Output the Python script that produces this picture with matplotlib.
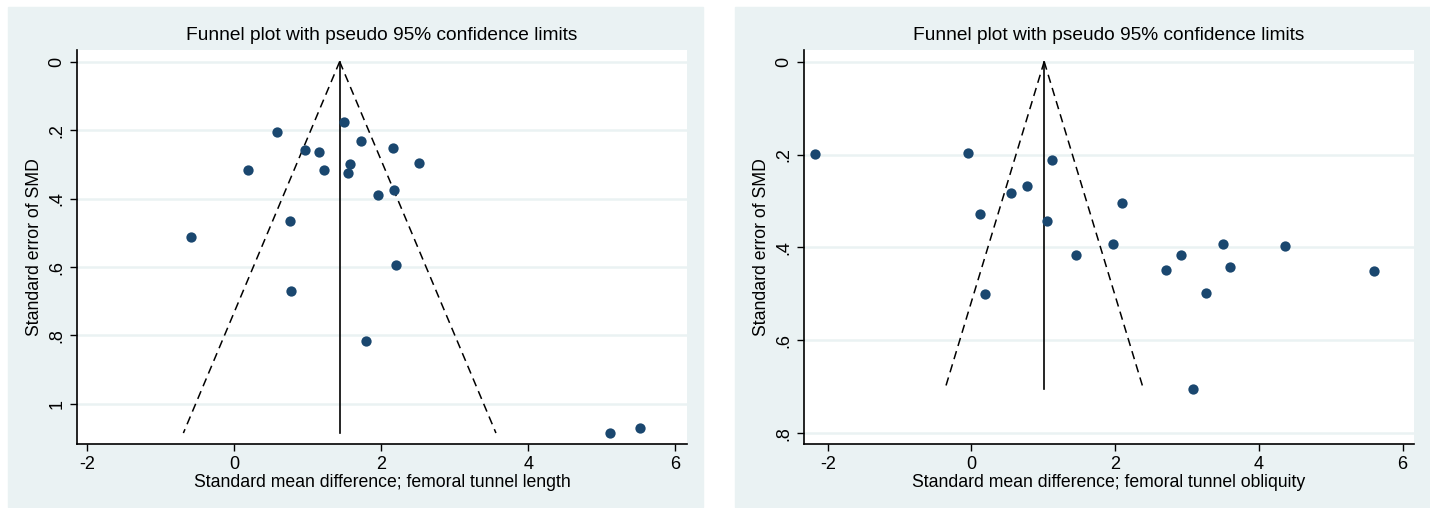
import matplotlib.pyplot as plt
from matplotlib.patches import Rectangle

plt.rcParams['font.family'] = ['Liberation Sans', 'DejaVu Sans']

# femoral tunnel length: SMD and its standard error
len_smd = [0.575, 0.18, 0.958, 1.156, 1.224, 1.49, 1.73, 1.58, 1.546, 2.164,
           2.51, 2.17, 1.96, 0.76, -0.587, 2.207, 0.773, 1.793, 5.107, 5.515]
len_se = [0.206, 0.317, 0.258, 0.264, 0.318, 0.177, 0.231, 0.298, 0.326, 0.251,
          0.297, 0.376, 0.391, 0.467, 0.512, 0.594, 0.671, 0.815, 1.085, 1.070]
len_pooled = 1.434

# femoral tunnel obliquity
obl_smd = [-2.18, -0.044, 1.127, 0.778, 0.557, 0.12, 2.095, 1.057, 1.968, 3.50,
           4.36, 1.462, 2.924, 2.715, 3.60, 5.61, 0.196, 3.27, 3.089]
obl_se = [0.198, 0.196, 0.211, 0.268, 0.283, 0.329, 0.305, 0.343, 0.392, 0.393,
          0.396, 0.417, 0.416, 0.449, 0.442, 0.450, 0.501, 0.498, 0.704]
obl_pooled = 1.013

x_ticks = [-2, 0, 2, 4, 6]
x_labels = ['-2', '0', '2', '4', '6']
y_ticks1 = [0, 0.2, 0.4, 0.6, 0.8, 1.0]
y_labels1 = ['0', '.2', '.4', '.6', '.8', '1']
y_ticks2 = [0, 0.2, 0.4, 0.6, 0.8]
y_labels2 = ['0', '.2', '.4', '.6', '.8']

bg = '#eaf2f3'
navy = '#1a476f'

fig = plt.figure(figsize=(14.3, 5.08), dpi=100)
fig.patches.append(Rectangle((8 / 1430, 1 / 508), 695 / 1430, 500 / 508,
                             transform=fig.transFigure, color=bg, zorder=-5))
fig.patches.append(Rectangle((735 / 1430, 1 / 508), 695 / 1430, 500 / 508,
                             transform=fig.transFigure, color=bg, zorder=-5))


def funnel(rect, smd, se, pooled, xlim, ylim, yt, yl, xlabel, title_x):
    ax = fig.add_axes(rect)
    ax.set_facecolor('white')
    maxse = max(se)
    lo = pooled - 1.96 * maxse
    hi = pooled + 1.96 * maxse
    ax.plot([pooled, lo], [0, maxse], color='black', lw=1.1, ls=(0, (5.5, 3.5)))
    ax.plot([pooled, hi], [0, maxse], color='black', lw=1.1, ls=(0, (5.5, 3.5)))
    ax.plot([pooled, pooled], [0, maxse], color='black', lw=1.2)
    ax.scatter(smd, se, s=55, color=navy, zorder=3, linewidths=0)
    ax.set_xlim(xlim)
    ax.set_ylim(ylim)
    ax.set_xticks(x_ticks)
    ax.set_xticklabels(x_labels)
    ax.set_yticks(yt)
    ax.set_yticklabels(yl, rotation=90, va='center')
    for y in yt:
        ax.axhline(y, color=bg, lw=1.8, zorder=0)
    for s in ['top', 'right']:
        ax.spines[s].set_visible(False)
    for s in ['left', 'bottom']:
        ax.spines[s].set_linewidth(1.2)
    ax.tick_params(labelsize=13, length=5, width=1.0, direction='out')
    ax.set_xlabel(xlabel, fontsize=12.7, labelpad=1)
    ax.set_ylabel('Standard error of SMD', fontsize=12.7, labelpad=4)
    fig.text(title_x, 1 - 35 / 508, 'Funnel plot with pseudo 95% confidence limits',
             ha='center', va='center', fontsize=13.8)
    return ax


ax1 = funnel([77 / 1430, 64 / 508, 610 / 1430, 394 / 508], len_smd, len_se, len_pooled,
             (-2.14, 6.16), (1.117, -0.034), y_ticks1, y_labels1,
             'Standard mean difference; femoral tunnel length', 382 / 1430)
ax2 = funnel([804 / 1430, 64 / 508, 610 / 1430, 394 / 508], obl_smd, obl_se, obl_pooled,
             (-2.33, 6.16), (0.823, -0.025), y_ticks2, y_labels2,
             'Standard mean difference; femoral tunnel obliquity', 1109 / 1430)

fig.savefig('out.png', dpi=100)
